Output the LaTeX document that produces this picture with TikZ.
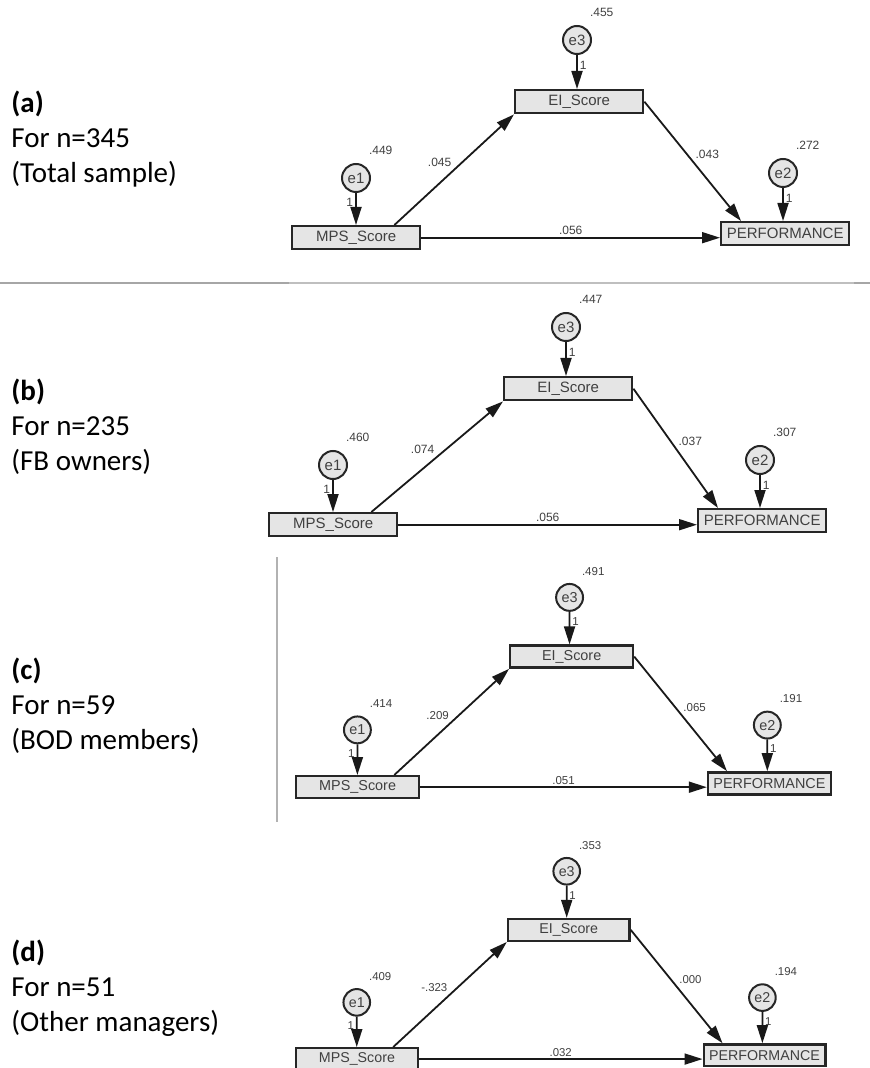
\documentclass[tikz,border=0pt]{standalone}
\usepackage{fontspec}
\setmainfont{Carlito}
\newfontfamily\amosfont{Liberation Sans}
\usetikzlibrary{arrows.meta,positioning}

\tikzset{
  obsbox/.style={draw=black!85,fill=black!10,line width=1.2pt,minimum width=64pt,minimum height=11.5pt,inner sep=1.5pt,font=\amosfont\fontsize{7.5}{8}\selectfont,text=black!75},
  errcirc/.style={circle,draw=black!85,fill=black!10,line width=1pt,minimum size=14pt,inner sep=0pt,font=\amosfont\fontsize{7.5}{8}\selectfont,text=black!75},
  coef/.style={font=\amosfont\fontsize{6}{7}\selectfont,text=black!75,inner sep=1pt},
  patharrow/.style={line width=0.9pt,draw=black!90,-{Triangle[length=9pt,width=5.5pt]}},
  grouplbl/.style={anchor=west,align=left,inner sep=0pt,font=\fontsize{14.5}{17.5}\selectfont},
  eishift/.store in=\eishift, eishift=0
}

%one AMOS model: #1 prefix, #2 placement, #3-#5 variances e1 e3 e2, #6-#8 paths, #9 scale
\newcommand{\sempanel}[9]{%
 \begin{scope}[#2,scale=#9,transform shape,name prefix=#1-]
  \node[obsbox,anchor=north west] (mps) at (0,0) {MPS\_Score};
  \node[errcirc] (e1) at (65,-47) {e1};
  \node[obsbox,anchor=north west] (ei) at (223+\eishift,-136) {EI\_Score};
  \node[errcirc] (e3) at (286+\eishift,-185) {e3};
  \node[obsbox,anchor=north west] (perf) at (429,-4) {PERFORMANCE};
  \node[errcirc] (e2) at (492,-52) {e2};
  \node[coef,above right=5pt and 0pt of e1] (v1) {#3};
  \node[coef,above right=5pt and 0pt of e3] (v3) {#4};
  \node[coef,above right=5pt and 0pt of e2] (v2) {#5};
  \draw[patharrow] (e1) -- (e1 |- mps.north) node[coef,pos=.3,left] (w1) {1};
  \draw[patharrow] (e3) -- (e3 |- ei.north) node[coef,pos=.3,right] (w3) {1};
  \draw[patharrow] (e2) -- (e2 |- perf.north) node[coef,pos=.3,right] (w2) {1};
  \draw[patharrow] ([xshift=-13.5pt]mps.north east) -- (ei.south west) node[coef,midway,above left] (pa) {#6};
  \draw[patharrow] (ei.east) -- ([xshift=10.5pt]perf.north west) node[coef,midway,above right] (pb) {#7};
  \draw[patharrow] (mps.east) -- (mps.east -| perf.west) node[coef,midway,above] (pc) {#8};
 \end{scope}}

\begin{document}
\begin{tikzpicture}[x=0.5pt,y=-0.5pt]
 \useasboundingbox (0,0) rectangle (870,1068);
%Group labels (left)
 \node[grouplbl] (lbla) at (11,139) {\textbf{(a)}\\For n=345\\(Total sample)};
 \node[grouplbl] (lblb) at (11,427) {\textbf{(b)}\\For n=235\\(FB owners)};
 \node[grouplbl] (lblc) at (11,706) {\textbf{(c)}\\For n=59\\(BOD members)};
 \node[grouplbl] (lbld) at (11,988) {\textbf{(d)}\\For n=51\\(Other managers)};
%Rules
 \draw[gray!70,line width=1.2pt] (0,283) -- (289,283);
 \draw[gray!50,line width=1.2pt] (289,283) -- (854,283);
 \draw[gray!70,line width=1.2pt] (854,283) -- (870,283);
 \draw[gray!60,line width=0.9pt] (277,557) -- (277,822);
%Models
 \sempanel{a}{shift={(291,225)}}{.449}{.455}{.272}{.045}{.043}{.056}{1}
 \sempanel{b}{shift={(268,512)},eishift=12}{.460}{.447}{.307}{.074}{.037}{.056}{1}
 \sempanel{c}{shift={(295,775)},eishift=0}{.414}{.491}{.191}{.209}{.065}{.051}{0.96}
 \sempanel{d}{shift={(295,1047)}}{.409}{.353}{.194}{-.323}{.000}{.032}{0.95}
\end{tikzpicture}
\end{document}
